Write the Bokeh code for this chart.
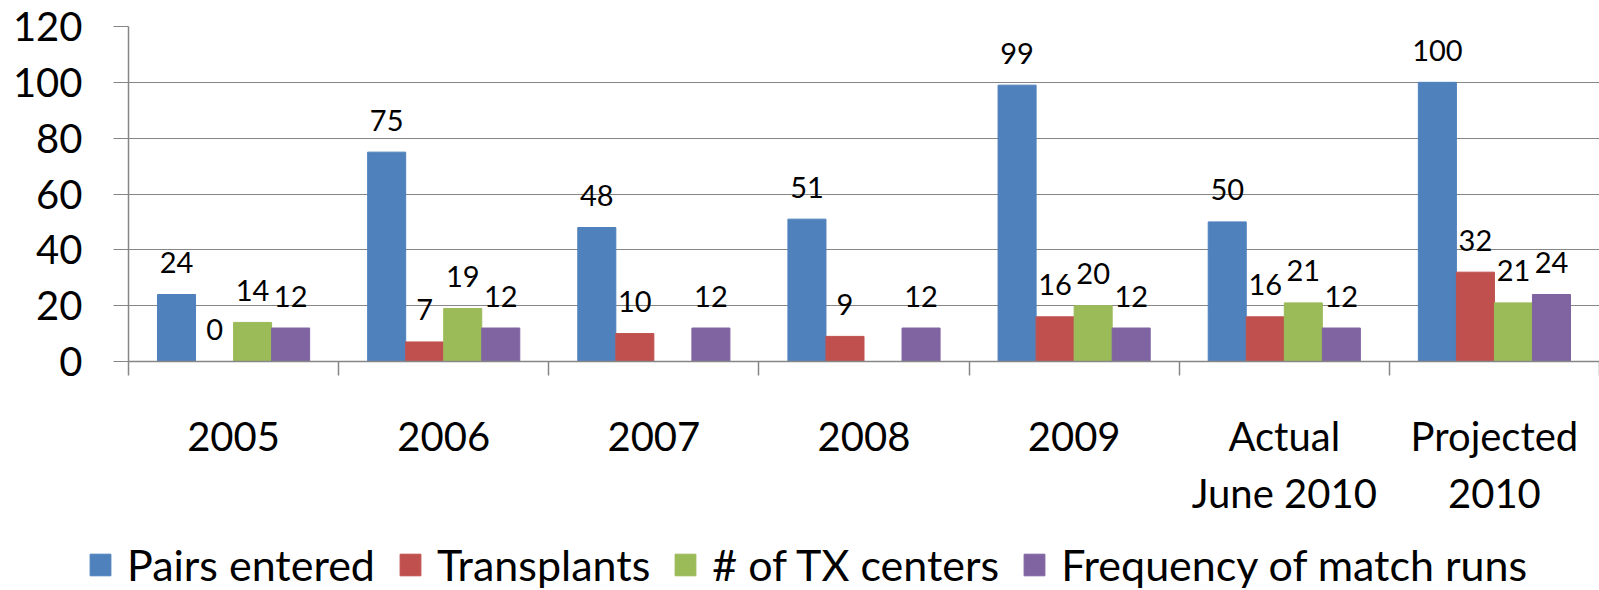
from bokeh.plotting import figure
from bokeh.models import ColumnDataSource, Range1d, FixedTicker, Legend, LegendItem
from bokeh.layouts import column
from bokeh.core.properties import value
from bokeh.embed import file_html
from bokeh.resources import INLINE

categories = ["2005", "2006", "2007", "2008", "2009", "Actual\nJune 2010", "Projected\n2010"]
series_names = ["Pairs entered", "Transplants", "# of TX centers", "Frequency of match runs"]
pairs_entered = [24, 75, 48, 51, 99, 50, 100]
transplants = [0, 7, 10, 9, 16, 16, 32]
tx_centers = [14, 19, None, None, 20, 21, 21]
match_runs = [12, 12, 12, 12, 12, 12, 24]
y_ticks = [0, 20, 40, 60, 80, 100, 120]

colors = ["#4F81BD", "#C0504D", "#9BBB59", "#8064A2"]
series = [pairs_entered, transplants, tx_centers, match_runs]

FONT = "Lato"
bar_w = 0.181
offsets = [-1.5 * bar_w, -0.5 * bar_w, 0.5 * bar_w, 1.5 * bar_w]

p = figure(width=1599, height=534, output_backend="svg", toolbar_location=None,
           x_range=Range1d(0, 7), y_range=Range1d(0, 120),
           min_border_left=128, min_border_right=0, min_border_top=26, min_border_bottom=173)
p.outline_line_color = None
p.background_fill_color = "white"
p.frame_align = False

centers = [i + 0.5 for i in range(len(categories))]
for name, vals, col, off in zip(series_names, series, colors, offsets):
    xs, tops, labels = [], [], []
    for c, v in zip(centers, vals):
        if v is None:
            continue
        xs.append(c + off)
        tops.append(v)
        labels.append(str(v))
    src = ColumnDataSource(dict(x=xs, top=tops, label=labels))
    p.vbar(x="x", top="top", width=bar_w, bottom=0, source=src,
           fill_color=col, line_color=col, line_width=1)
    p.text(x="x", y="top", text="label", source=src, text_align="center",
           text_baseline="alphabetic", y_offset=-32, text_font=value(FONT),
           text_font_size="29px", text_color="black")

# axes
p.xgrid.grid_line_color = None
p.ygrid.grid_line_color = "#868686"
p.ygrid.grid_line_width = 1.2

p.yaxis.ticker = FixedTicker(ticks=y_ticks)
p.yaxis.axis_line_color = "#868686"
p.yaxis.axis_line_width = 1.5
p.yaxis.major_tick_line_color = "#868686"
p.yaxis.major_tick_out = 15
p.yaxis.major_tick_in = 0
p.yaxis.minor_tick_line_color = None
p.yaxis.major_label_standoff = 31
p.yaxis.major_label_text_font = FONT
p.yaxis.major_label_text_font_size = "40px"
p.yaxis.major_label_text_color = "black"

p.xaxis.ticker = FixedTicker(ticks=centers, minor_ticks=list(range(0, 8)))
p.xaxis.major_label_overrides = {c: lab for c, lab in zip(centers, categories)}
p.xaxis.axis_line_color = "#868686"
p.xaxis.axis_line_width = 1.5
p.xaxis.major_tick_line_color = None
p.xaxis.major_tick_out = 0
p.xaxis.major_tick_in = 0
p.xaxis.minor_tick_line_color = "#868686"
p.xaxis.minor_tick_line_width = 1.5
p.xaxis.minor_tick_out = 14
p.xaxis.minor_tick_in = 0
p.xaxis.major_label_standoff = 36
p.xaxis.major_label_text_font = FONT
p.xaxis.major_label_text_font_size = "40px"
p.xaxis.major_label_text_color = "black"

# legend strip below the chart
lg = figure(width=1599, height=56, output_backend="svg", toolbar_location=None,
            x_range=Range1d(0, 1), y_range=Range1d(0, 1),
            x_axis_location=None, y_axis_location=None,
            min_border_left=0, min_border_right=0, min_border_top=0, min_border_bottom=0)
lg.outline_line_color = None
lg.xgrid.grid_line_color = None
lg.ygrid.grid_line_color = None
lg.frame_align = False
items = []
for name, col in zip(series_names, colors):
    r = lg.vbar(x=[5], top=[1], width=0.1, fill_color=col, line_color=col)
    items.append(LegendItem(label=name, renderers=[r]))
legend = Legend(items=items, orientation="horizontal", location=(87, 0),
                glyph_width=26, glyph_height=27, label_standoff=14, spacing=22,
                padding=0, margin=0, border_line_color=None, background_fill_alpha=0,
                label_text_font=FONT, label_text_font_size="43px", label_text_color="black")
lg.add_layout(legend, "center")

layout = column(p, lg, spacing=0)
open("out.html", "w").write(file_html(layout, INLINE))
